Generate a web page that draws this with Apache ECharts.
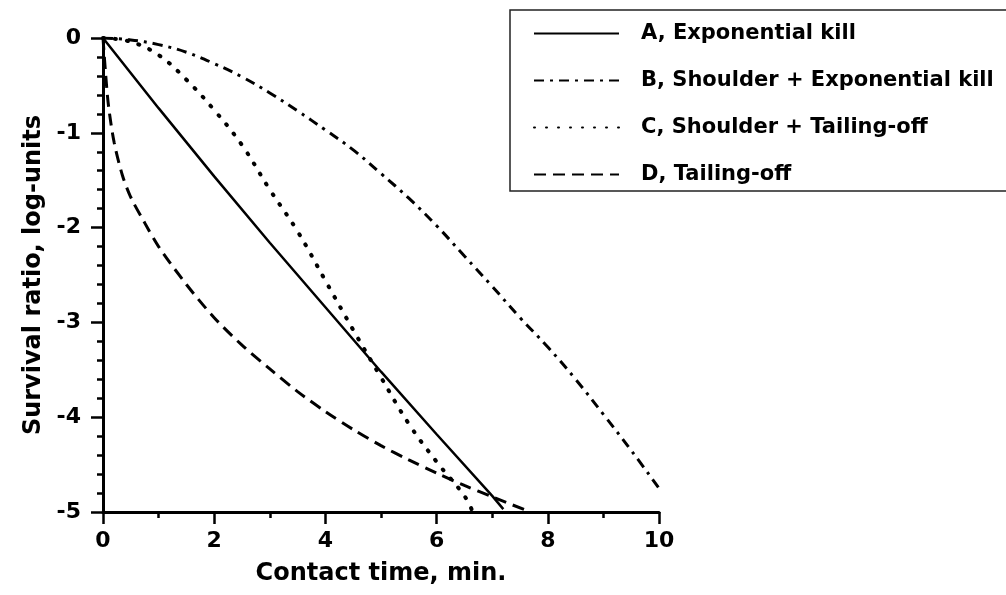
<!DOCTYPE html>
<html>
<head>
<meta charset="utf-8">
<script src="https://cdn.jsdelivr.net/npm/echarts@6/dist/echarts.min.js"></script>
<style>
html, body { margin: 0; padding: 0; background: #fff; }
#main { width: 1006px; height: 595px; }
</style>
</head>
<body>
<div id="main"></div>
<script>
var myChart = echarts.init(document.getElementById('main'));

// curves: [contact time, log survival]
var curveA = [[0, 0], [1, -0.74], [2, -1.46], [3, -2.16], [4, -2.84], [5, -3.52], [6, -4.18], [7, -4.83], [7.2, -4.97]];
var curveB = [[0, 0], [0.5, -0.02], [1, -0.07], [1.5, -0.15], [2, -0.27], [2.5, -0.41], [3, -0.58], [3.5, -0.77],
    [4, -0.97], [4.5, -1.18], [5, -1.43], [5.5, -1.69], [6, -1.98], [6.5, -2.3], [7, -2.62], [7.5, -2.95],
    [8, -3.26], [8.5, -3.6], [9, -3.97], [9.5, -4.35], [10, -4.75]];
var curveC = [[0, 0], [0.5, -0.04], [1, -0.18], [1.5, -0.44], [2, -0.76], [2.5, -1.13], [3, -1.6], [3.5, -2.04],
    [4, -2.56], [4.5, -3.08], [5, -3.58], [5.5, -4.07], [6, -4.47], [6.5, -4.83], [6.65, -5]];
var curveD = [[0, 0], [0.05, -0.4], [0.1, -0.72], [0.2, -1.1], [0.35, -1.45], [0.5, -1.68], [0.75, -1.95],
    [1, -2.2], [1.5, -2.6], [2, -2.95], [2.5, -3.24], [3, -3.49], [3.5, -3.73], [4, -3.94], [4.5, -4.13],
    [5, -4.3], [5.5, -4.45], [6, -4.59], [6.5, -4.72], [7, -4.84], [7.6, -4.98]];
var names = ['A, Exponential kill', 'B, Shoulder + Exponential kill', 'C, Shoulder + Tailing-off', 'D, Tailing-off'];

var font = '"DejaVu Sans", sans-serif';

var axisCommon = {
    axisLine: { onZero: false, lineStyle: { color: '#000', width: 3 } },
    axisTick: { inside: false, length: 12, lineStyle: { color: '#000', width: 2.5 } },
    minorTick: { show: true, length: 6, lineStyle: { color: '#000', width: 2.5 } },
    splitLine: { show: false },
    nameTextStyle: { color: '#000', fontFamily: font, fontWeight: 'bold', fontSize: 24 }
};

var option = {
    backgroundColor: '#fff',
    animation: false,
    grid: { left: 103, right: 347, top: 38, bottom: 83 },
    legend: {
        left: 510,
        top: 10,
        orient: 'vertical',
        itemWidth: 85,
        itemHeight: 24,
        itemGap: 26,
        padding: [13, 400, 6, 23],
        borderColor: '#222',
        borderWidth: 1.5,
        itemStyle: { opacity: 0 },
        textStyle: { color: '#000', fontFamily: font, fontWeight: 'bold', fontSize: 21, padding: [0, 0, 0, 17] },
        data: names
    },
    xAxis: Object.assign({}, axisCommon, {
        type: 'value',
        min: 0,
        max: 10,
        interval: 2,
        minorTick: Object.assign({}, axisCommon.minorTick, { splitNumber: 2 }),
        name: 'Contact time, min.',
        nameLocation: 'middle',
        nameGap: 50,
        axisLabel: { color: '#000', fontFamily: font, fontWeight: 'bold', fontSize: 22, margin: 18 }
    }),
    yAxis: Object.assign({}, axisCommon, {
        type: 'value',
        min: -5,
        max: 0,
        interval: 1,
        minorTick: Object.assign({}, axisCommon.minorTick, { splitNumber: 5 }),
        name: 'Survival ratio, log-units',
        nameLocation: 'middle',
        nameGap: 56,
        axisLabel: { color: '#000', fontFamily: font, fontWeight: 'bold', fontSize: 22, margin: 22 }
    }),
    series: [{
        name: names[0], type: 'line', data: curveA, showSymbol: false, symbol: 'none',
        itemStyle: { color: '#000' },
        lineStyle: { color: '#000', width: 2.5, type: 'solid' }
    }, {
        name: names[1], type: 'line', data: curveB, showSymbol: false, symbol: 'none', smooth: 0.4,
        itemStyle: { color: '#000' },
        lineStyle: { color: '#000', width: 3, type: [10, 6, 3, 6] }
    }, {
        name: names[2], type: 'line', data: curveC, showSymbol: false, symbol: 'none', smooth: 0.4,
        itemStyle: { color: '#000' },
        lineStyle: { color: '#000', width: 4, type: [1, 11], cap: 'round' }
    }, {
        name: names[3], type: 'line', data: curveD, showSymbol: false, symbol: 'none', smooth: 0.3,
        itemStyle: { color: '#000' },
        lineStyle: { color: '#000', width: 3, type: [12, 7] }
    }]
};

myChart.setOption(option);
</script>
</body>
</html>
